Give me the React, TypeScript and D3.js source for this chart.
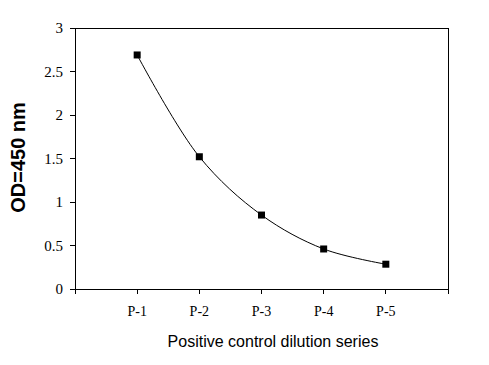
import React from "react";
import * as d3 from "d3";

const categories = ["P-1", "P-2", "P-3", "P-4", "P-5"];
const values = [2.69, 1.52, 0.85, 0.46, 0.285];
const yTicks = [0, 0.5, 1, 1.5, 2, 2.5, 3];

const W = 489;
const H = 365;
const L = 75, R = 448, T = 28, B = 289;

export default function App() {
  const x = d3.scaleLinear().domain([0, categories.length + 1]).range([L, R]);
  const y = d3.scaleLinear().domain([0, 3]).range([B, T]);
  const pts: [number, number][] = values.map((v, i) => [x(i + 1), y(v)]);
  const line = d3.line().curve(d3.curveCatmullRom.alpha(0.5))(pts) || "";
  const xTickPos = d3.range(0, categories.length + 2);
  return (
    <svg width={W} height={H} style={{ position: "absolute", left: 0, top: 0, background: "#fff" }}>
      <rect x={0} y={0} width={W} height={H} fill="#fff" />
      <rect x={L} y={T} width={R - L} height={B - T} fill="none" stroke="#000" strokeWidth={1} shapeRendering="crispEdges" />
      {yTicks.map((t) => (
        <g key={t}>
          <line x1={L - 5} x2={L} y1={y(t)} y2={y(t)} stroke="#000" shapeRendering="crispEdges" />
          <text x={L - 12} y={y(t)} dy="0.35em" textAnchor="end" fontFamily="Liberation Serif" fontSize={15} fill="#000">
            {String(t)}
          </text>
        </g>
      ))}
      {xTickPos.map((t) => (
        <line key={t} x1={x(t)} x2={x(t)} y1={B} y2={B + 5} stroke="#000" shapeRendering="crispEdges" />
      ))}
      {categories.map((c, i) => (
        <text key={c} x={x(i + 1)} y={316} textAnchor="middle" fontFamily="Liberation Serif" fontSize={14} fill="#000">
          {c}
        </text>
      ))}
      <path d={line} fill="none" stroke="#000" strokeWidth={1} />
      {pts.map(([px, py], i) => (
        <rect key={i} x={px - 3.5} y={py - 3.5} width={7} height={7} fill="#000" />
      ))}
      <text x={273} y={347} textAnchor="middle" fontFamily="Liberation Sans" fontSize={16} fill="#000">
        Positive control dilution series
      </text>
      <text transform={`translate(25,157.5) rotate(-90)`} textAnchor="middle" fontFamily="Liberation Sans" fontWeight="bold" fontSize={20} fill="#000">
        OD=450 nm
      </text>
    </svg>
  );
}
